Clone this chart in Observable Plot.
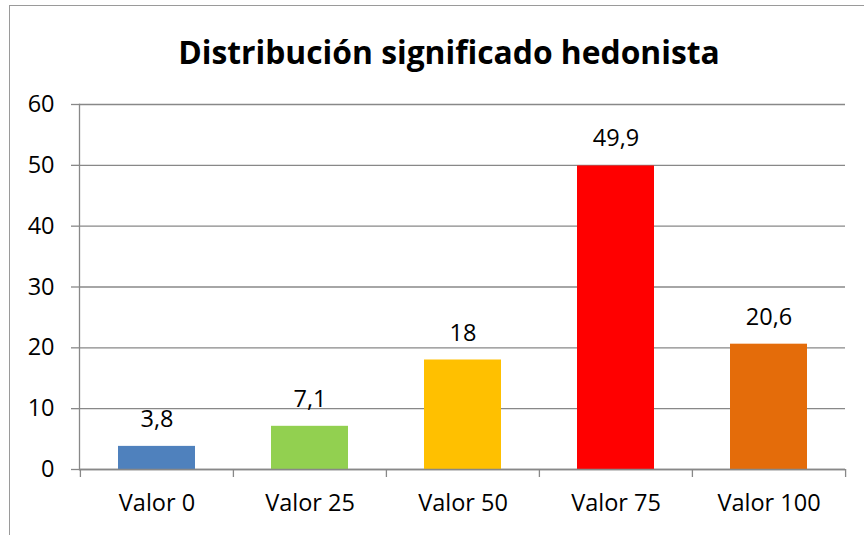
<!DOCTYPE html>
<html>
<head>
<meta charset="utf-8">
<script src="https://cdn.jsdelivr.net/npm/d3@7"></script>
<script src="https://cdn.jsdelivr.net/npm/@observablehq/plot@0.6"></script>
<style>
  html, body { margin: 0; padding: 0; background: #fff; overflow: hidden; }
  #wrap { position: relative; width: 864px; height: 535px; font-family: "Open Sans", sans-serif; }
  #border { position: absolute; left: 9px; top: 5px; width: 900px; height: 600px;
            border-left: 1.5px solid #9a9a9a; border-top: 1.5px solid #9a9a9a; }
  #title { position: absolute; left: 17px; top: 0; width: 864px; height: 80px; text-align: center;
           font-weight: bold; font-size: 31.8px; line-height: 104px; color: #000; }
  #chart { position: absolute; left: 0; top: 80px; }
</style>
</head>
<body>
<div id="wrap">
  <div id="border"></div>
  <div id="title">Distribución significado hedonista</div>
  <div id="chart"></div>
</div>
<script>
const categories = ["Valor 0", "Valor 25", "Valor 50", "Valor 75", "Valor 100"];
const values = [3.8, 7.1, 18, 49.9, 20.6];
const colors = ["#4F81BD", "#92D050", "#FFC000", "#FF0000", "#E46C0A"];
const yTicks = [0, 10, 20, 30, 40, 50, 60];

const data = categories.map((c, i) => ({cat: c, value: values[i], color: colors[i]}));
const fmt = v => String(v).replace(".", ",");

const W = 864, H = 455, ML = 79, MR = 19;
const step = (W - ML - MR) / categories.length;
const grey = "#888888";
const FS = 23.5;

const chart = Plot.plot({
  width: W,
  height: H,
  marginLeft: ML,
  marginRight: MR,
  marginTop: 24,
  marginBottom: 66,
  style: {fontFamily: "Open Sans, sans-serif", fontSize: FS + "px", color: "#000", background: "transparent"},
  x: {domain: categories, paddingInner: 0.5, paddingOuter: 0.25, label: null},
  y: {domain: [0, 60], label: null},
  marks: [
    Plot.gridY(yTicks, {stroke: grey, strokeOpacity: 1, strokeWidth: 1.3}),
    Plot.barY(data, {x: "cat", y: "value", fill: "color"}),
    Plot.ruleY([0], {stroke: grey, strokeWidth: 1.3}),
    Plot.frame({anchor: "left", stroke: grey, strokeWidth: 1.3}),
    Plot.axisY({ticks: yTicks, tickSize: 8, tickPadding: 17, stroke: grey, strokeWidth: 1.3, fill: "#000", fontSize: FS, label: null}),
    Plot.axisX({tickSize: 0, tickPadding: 25, fill: "#000", fontSize: FS, label: null}),
    Plot.axisX({tickSize: 8, tickFormat: () => "", dx: -step / 2, stroke: grey, strokeWidth: 1.3, label: null}),
    Plot.axisX({ticks: [categories[categories.length - 1]], tickSize: 8, tickFormat: () => "", dx: step / 2, stroke: grey, strokeWidth: 1.3, label: null}),
    Plot.text(data, {x: "cat", y: "value", text: d => fmt(d.value), dy: -27, lineAnchor: "middle", fill: "#000", fontSize: FS})
  ]
});
document.getElementById("chart").appendChild(chart);
</script>
</body>
</html>
